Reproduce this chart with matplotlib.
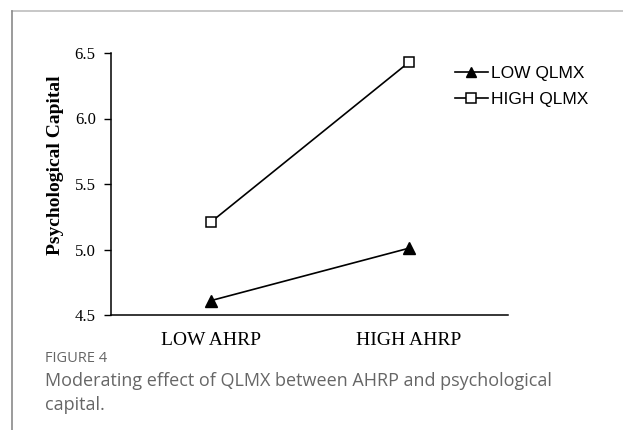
import matplotlib.pyplot as plt
from matplotlib.lines import Line2D

# values
categories = ['LOW AHRP', 'HIGH AHRP']
low_qlmx = [4.61, 5.01]
high_qlmx = [5.21, 6.43]
yticks = [4.5, 5.0, 5.5, 6.0, 6.5]

W, H = 623, 430
fig = plt.figure(figsize=(W / 100, H / 100), dpi=100)

# light gray frame (top and left edges)
fig.add_artist(Line2D([12 / W, 1], [1 - 11 / H, 1 - 11 / H], color='#bdbdbd', lw=1.2))
fig.add_artist(Line2D([12 / W, 12 / W], [0, 1 - 11 / H], color='#8a8a8a', lw=1.2))

# axes from x=111..508, y=53..315 (pixels)
ax = fig.add_axes([111 / W, 1 - 315 / H, (508 - 111) / W, (315 - 53) / H])
x = range(len(categories))
ax.plot(x, low_qlmx, color='black', lw=1.2, marker='^', ms=8.5,
        mfc='black', mec='black', label='LOW QLMX')
ax.plot(x, high_qlmx, color='black', lw=1.2, marker='s', ms=7.5,
        mfc='white', mec='black', mew=1.1, label='HIGH QLMX')

ax.set_xlim(-0.505, 1.5)
ax.set_ylim(4.5, 6.5)
ax.set_yticks(yticks)
ax.set_yticklabels(['%.1f' % v for v in yticks], fontfamily='Liberation Serif', fontsize=12)
ax.set_xticks(list(x))
ax.set_xticklabels(categories, fontfamily='Liberation Serif', fontsize=14)
ax.tick_params(axis='x', length=0, pad=12)
ax.tick_params(axis='y', length=5, width=1, direction='out', pad=6)
for s in ['top', 'right']:
    ax.spines[s].set_visible(False)
for s in ['left', 'bottom']:
    ax.spines[s].set_linewidth(1.1)
ax.set_ylabel('Psychological Capital', fontfamily='Liberation Serif',
              fontweight='bold', fontsize=14)
ax.yaxis.set_label_coords(-0.118, 0.57)

leg = ax.legend(loc='upper left', bbox_to_anchor=(455 / W, 1 - 66 / H),
                bbox_transform=fig.transFigure, frameon=False,
                borderaxespad=0, borderpad=0,
                prop={'family': 'Liberation Sans', 'size': 12.5},
                handlelength=1.9, handletextpad=0.2, labelspacing=0.6,
                markerscale=0.9)

# caption
fig.text(45 / W, 1 - 362 / H, 'FIGURE 4', color='#666666', fontsize=10.5,
         fontfamily='Open Sans', va='baseline')
fig.text(45 / W, 1 - 386 / H, 'Moderating effect of QLMX between AHRP and psychological',
         color='#666666', fontsize=13, fontfamily='Open Sans', va='baseline')
fig.text(45 / W, 1 - 410 / H, 'capital.', color='#666666', fontsize=13,
         fontfamily='Open Sans', va='baseline')

fig.savefig('out.png', dpi=100)
